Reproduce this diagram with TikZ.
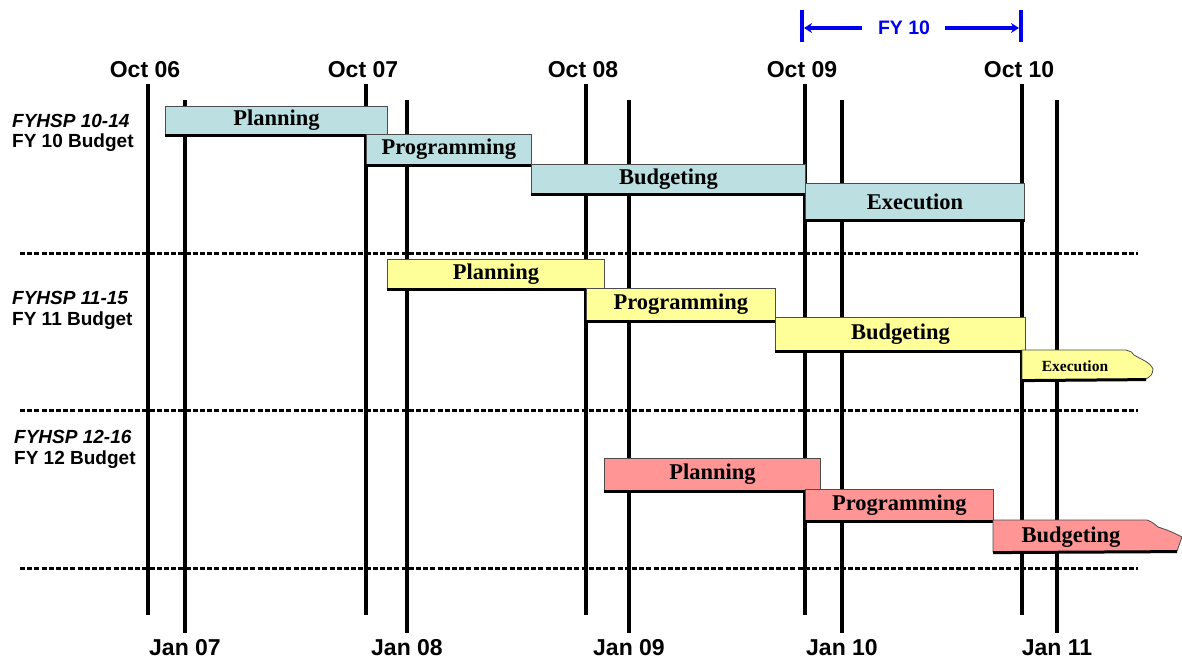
\documentclass[tikz,border=0pt]{standalone}
\usepackage{fontspec}
\usetikzlibrary{arrows.meta}
\setmainfont{Liberation Serif}
\setsansfont{Liberation Sans}
\definecolor{teal0}{HTML}{BCDFE2}
\definecolor{yell0}{HTML}{FFFF99}
\definecolor{pink0}{HTML}{FF9595}
\definecolor{fyblue}{HTML}{0000F0}
\tikzset{
  yearline/.style={line width=3.2pt, black},
  sepline/.style={line width=3pt, black, dash pattern=on 5pt off 2.2pt},
  phase/.style={draw=black!70, line width=0.8pt, inner sep=0pt, anchor=north west,
    font=\rmfamily\bfseries\fontsize{22.5}{24}\selectfont},
  shade/.style={line width=3pt, black},
  ticklab/.style={font=\sffamily\bfseries\fontsize{23}{25}\selectfont, inner sep=0pt},
  rowlab/.style={font=\sffamily\bfseries\fontsize{19}{21}\selectfont, inner sep=0pt, anchor=west},
  rowlabit/.style={rowlab, font=\sffamily\bfseries\itshape\fontsize{19}{21}\selectfont},
  fyarrow/.style={fyblue, line width=3.4pt, -{Stealth[length=8pt,width=10pt]}},
}
% phase bar: name, left x, top y, width, height, fill, text
\newcommand\phasebar[7]{%
  \node[phase, fill=#6, minimum width=#4pt, minimum height=#5pt] (#1) at (#2,#3) {#7};
  \draw[shade] ([yshift=-0.6pt]#1.south west) -- ([yshift=-0.6pt]#1.south east);
}
\begin{document}
\begin{tikzpicture}[x=1pt,y=-1pt]
\useasboundingbox (0,0) rectangle (1182,660);

% quarter marks: October lines and January lines
\foreach \n/\x/\t in {a/148/06,b/366/07,c/586/08,d/805/09,e/1022/10}{
  \coordinate (oct\n top) at (\x,84);
  \coordinate (oct\n bot) at (\x,615);
  \draw[yearline] (oct\n top) -- (oct\n bot);
  \node[ticklab] (octlab\n) at (\x-3,70) {Oct \t};
}
\foreach \n/\x/\t in {a/185/07,b/407/08,c/629/09,d/842/10,e/1057/11}{
  \coordinate (jan\n top) at (\x,100);
  \coordinate (jan\n bot) at (\x,633);
  \draw[yearline] (jan\n top) -- (jan\n bot);
  \node[ticklab] (janlab\n) at (\x,648) {Jan \t};
}

% separators between budget cycles
\foreach \n/\y in {a/253,b/410,c/568}{
  \coordinate (sep\n l) at (20,\y);
  \coordinate (sep\n r) at (1138,\y);
  \draw[sepline] (sep\n l) -- (sep\n r);
}

% fiscal year bracket
\coordinate (fyl top) at (802,10);
\coordinate (fyl bot) at (802,42);
\coordinate (fyr top) at (1021,10);
\coordinate (fyr bot) at (1021,42);
\draw[fyblue, line width=3.4pt] (fyl top) -- (fyl bot) (fyr top) -- (fyr bot);
\node[font=\sffamily\bfseries\fontsize{19.5}{21}\selectfont, text=fyblue, inner sep=0pt] (fy) at (904,28) {FY 10};
\coordinate (fyl) at (804,28);
\coordinate (fyr) at (1019,28);
\coordinate (fyla) at (862,28);
\coordinate (fyra) at (945,28);
\draw[fyarrow] (fyla) -- (fyl);
\draw[fyarrow] (fyra) -- (fyr);

% row labels
\node[rowlabit] (r1a) at (12,121) {FYHSP 10-14};
\node[rowlab] (r1b) at (12,143) {FY 10 Budget};
\node[rowlabit] (r2a) at (12,298) {FYHSP 11-15};
\node[rowlab] (r2b) at (12,321) {FY 11 Budget};
\node[rowlabit] (r3a) at (14,437) {FYHSP 12-16};
\node[rowlab] (r3b) at (14,460) {FY 12 Budget};

% FY 10 cycle
\phasebar{p1}{165}{106}{222}{28}{teal0}{Planning}
\phasebar{g1}{366}{134}{165}{30}{teal0}{Programming}
\phasebar{b1}{531}{164}{274}{29}{teal0}{Budgeting}
\phasebar{e1}{805}{183}{219}{36}{teal0}{Execution}

% FY 11 cycle
\phasebar{p2}{387}{259}{217}{29}{yell0}{Planning}
\phasebar{g2}{586}{288}{189}{32}{yell0}{Programming}
\phasebar{b2}{775}{317}{250}{33}{yell0}{Budgeting}
\filldraw[fill=yell0, draw=black!70, line width=0.8pt]
  (1022,350) -- (1126,350) .. controls (1132,352) .. (1134,355)
  .. controls (1142,360) and (1150,362) .. (1153,369)
  .. controls (1152,375) .. (1146,379) -- (1022,380) -- cycle;
\draw[shade] (1022,380.6) -- (1146,379.6);
\node[font=\rmfamily\bfseries\fontsize{15.5}{17}\selectfont, inner sep=0pt] (e2) at (1075,366) {Execution};

% FY 12 cycle
\phasebar{p3}{604}{458}{216}{32}{pink0}{Planning}
\phasebar{g3}{805}{489}{188}{31}{pink0}{Programming}
\filldraw[fill=pink0, draw=black!70, line width=0.8pt]
  (993,520) -- (1147,520) .. controls (1152,522) .. (1158,527)
  .. controls (1170,531) .. (1182,537)
  .. controls (1180,544) .. (1177,551) -- (993,552) -- cycle;
\draw[shade] (993,552.6) -- (1177,551.6);
\node[font=\rmfamily\bfseries\fontsize{22.5}{24}\selectfont, inner sep=0pt] (b3) at (1071,537) {Budgeting};
\end{tikzpicture}
\end{document}
